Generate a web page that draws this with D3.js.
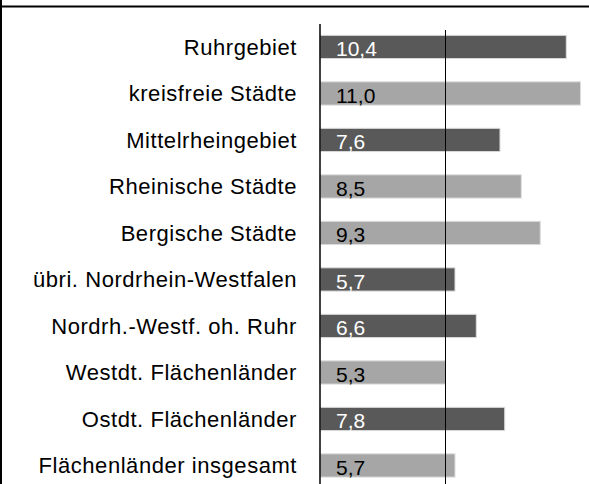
<!DOCTYPE html>
<html>
<head>
<meta charset="utf-8">
<script src="https://cdn.jsdelivr.net/npm/d3@7"></script>
<style>
  html, body { margin: 0; padding: 0; background: #fff; }
  svg { display: block; font-family: "Liberation Sans", Arial, sans-serif; }
</style>
</head>
<body>
<div id="chart"></div>
<script>
// ── data ──────────────────────────────────────────────
const categories = [
  'Ruhrgebiet', 'kreisfreie Städte', 'Mittelrheingebiet', 'Rheinische Städte',
  'Bergische Städte', 'übri. Nordrhein-Westfalen', 'Nordrh.-Westf. oh. Ruhr',
  'Westdt. Flächenländer', 'Ostdt. Flächenländer', 'Flächenländer insgesamt'
];
const values  = [10.4, 11.0, 7.6, 8.5, 9.3, 5.7, 6.6, 5.3, 7.8, 5.7];
const shades  = ['dark', 'light', 'dark', 'light', 'light', 'dark', 'dark', 'light', 'dark', 'light'];
const refValue = 5.3;   // Westdt. Flächenländer

const W = 589, H = 484;
const fill = { dark: '#595959', light: '#a6a6a6' };
const ink  = { dark: '#ffffff', light: '#000000' };

const svg = d3.select('#chart').append('svg').attr('width', W).attr('height', H);

// ── frame ──
svg.append('line').attr('x1', 0).attr('x2', W).attr('y1', 6.5).attr('y2', 6.5)
  .attr('stroke', '#000').attr('stroke-width', 2);
svg.append('line').attr('x1', 1).attr('x2', 1).attr('y1', 0).attr('y2', H)
  .attr('stroke', '#000').attr('stroke-width', 2);

// ── scales ──
const x = d3.scaleLinear().domain([0, 11]).range([320, 580.5]);
const y = d3.scaleBand().domain(categories).range([23.7, 488.7])
  .paddingInner(0.5).paddingOuter(0.25);

const rows = categories.map((c, i) => ({ cat: c, v: values[i], s: shades[i] }));

// ── bars ──
svg.append('g').selectAll('rect').data(rows).enter().append('rect')
  .attr('x', x(0))
  .attr('y', d => y(d.cat))
  .attr('width', d => x(d.v) - x(0))
  .attr('height', y.bandwidth())
  .attr('fill', d => fill[d.s])
  .attr('stroke', '#dcdcdc').attr('stroke-width', 1);

// ── reference line ──
svg.append('line')
  .attr('x1', x(refValue)).attr('x2', x(refValue))
  .attr('y1', 30).attr('y2', H)
  .attr('stroke', '#000').attr('stroke-width', 1);

// ── axis ──
svg.append('line')
  .attr('x1', x(0)).attr('x2', x(0))
  .attr('y1', 24).attr('y2', H)
  .attr('stroke', '#000').attr('stroke-width', 1.5);

// ── value labels ──
svg.append('g').selectAll('text').data(rows).enter().append('text')
  .attr('x', x(0) + 16)
  .attr('y', d => y(d.cat) + y.bandwidth() / 2)
  .attr('dy', '0.45em')
  .attr('font-size', 21)
  .attr('fill', d => ink[d.s])
  .text(d => d3.format('.1f')(d.v).replace('.', ','));

// ── category labels ──
svg.append('g').selectAll('text').data(rows).enter().append('text')
  .attr('x', 297)
  .attr('y', d => y(d.cat) + y.bandwidth() / 2)
  .attr('dy', '0.35em')
  .attr('text-anchor', 'end')
  .attr('font-size', 22)
  .attr('letter-spacing', 0.55)
  .attr('fill', '#000')
  .text(d => d.cat);
</script>
</body>
</html>
